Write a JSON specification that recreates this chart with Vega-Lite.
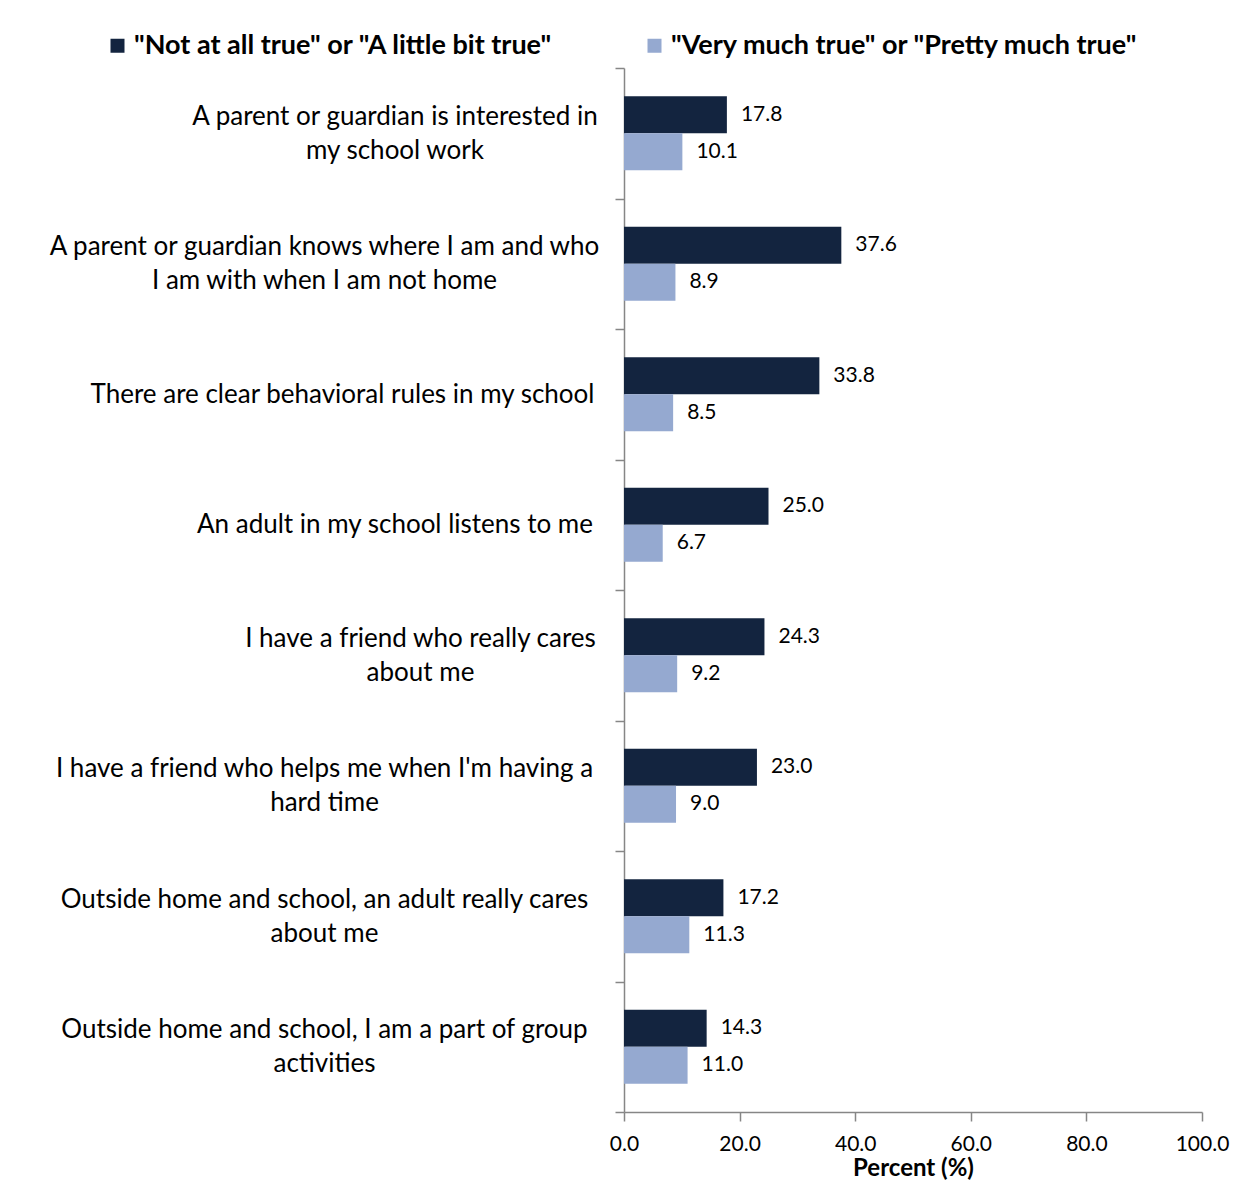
{
  "$schema": "https://vega.github.io/schema/vega-lite/v6.json",
  "width": 578,
  "height": 1044,
  "autosize": {"type": "none"},
  "padding": {"left": 624, "top": 68, "right": 31, "bottom": 68},
  "background": "white",
  "config": {
    "view": {"stroke": null},
    "font": "Lato",
    "axisY": {
      "title": null,
      "labelFontSize": 26,
      "labelColor": "#000000",
      "labelLineHeight": 34,
      "labelBaseline": "middle",
      "labelAlign": "center",
      "labelLimit": 700,
      "tickSize": 9,
      "tickBand": "extent",
      "domainColor": "#868686",
      "tickColor": "#868686",
      "domainWidth": 1.5,
      "tickWidth": 1.5
    }
  },
  "data": {"values": [
    {"item": "A parent or guardian is interested in|my school work", "series": "\"Not at all true\" or \"A little bit true\"", "value": 17.8},
    {"item": "A parent or guardian is interested in|my school work", "series": "\"Very much true\" or \"Pretty much true\"", "value": 10.1},
    {"item": "A parent or guardian knows where I am and who|I am with when I am not home", "series": "\"Not at all true\" or \"A little bit true\"", "value": 37.6},
    {"item": "A parent or guardian knows where I am and who|I am with when I am not home", "series": "\"Very much true\" or \"Pretty much true\"", "value": 8.9},
    {"item": "There are clear behavioral rules in my school", "series": "\"Not at all true\" or \"A little bit true\"", "value": 33.8},
    {"item": "There are clear behavioral rules in my school", "series": "\"Very much true\" or \"Pretty much true\"", "value": 8.5},
    {"item": "An adult in my school listens to me", "series": "\"Not at all true\" or \"A little bit true\"", "value": 25.0},
    {"item": "An adult in my school listens to me", "series": "\"Very much true\" or \"Pretty much true\"", "value": 6.7},
    {"item": "I have a friend who really cares|about me", "series": "\"Not at all true\" or \"A little bit true\"", "value": 24.3},
    {"item": "I have a friend who really cares|about me", "series": "\"Very much true\" or \"Pretty much true\"", "value": 9.2},
    {"item": "I have a friend who helps me when I'm having a|hard time", "series": "\"Not at all true\" or \"A little bit true\"", "value": 23.0},
    {"item": "I have a friend who helps me when I'm having a|hard time", "series": "\"Very much true\" or \"Pretty much true\"", "value": 9.0},
    {"item": "Outside home and school, an adult really cares|about me", "series": "\"Not at all true\" or \"A little bit true\"", "value": 17.2},
    {"item": "Outside home and school, an adult really cares|about me", "series": "\"Very much true\" or \"Pretty much true\"", "value": 11.3},
    {"item": "Outside home and school, I am a part of group|activities", "series": "\"Not at all true\" or \"A little bit true\"", "value": 14.3},
    {"item": "Outside home and school, I am a part of group|activities", "series": "\"Very much true\" or \"Pretty much true\"", "value": 11.0}
  ]},
  "encoding": {
    "yOffset": {
      "field": "series", "type": "nominal",
      "sort": ["\"Not at all true\" or \"A little bit true\"", "\"Very much true\" or \"Pretty much true\""],
      "scale": {"paddingInner": 0, "paddingOuter": 0.76}
    },
    "x": {
      "field": "value", "type": "quantitative",
      "scale": {"domain": [0, 100], "nice": false},
      "axis": {
        "values": [0, 20, 40, 60, 80, 100],
        "format": ".1f",
        "grid": false,
        "labelFontSize": 21,
        "labelColor": "#000000",
        "labelPadding": 12,
        "labelFlush": false,
        "tickSize": 9,
        "domainColor": "#868686",
        "tickColor": "#868686",
        "domainWidth": 1.5,
        "tickWidth": 1.5,
        "title": "Percent (%)",
        "titleFontSize": 24,
        "titleFontWeight": "bold",
        "titleColor": "#000000",
        "titlePadding": 2
      }
    }
  },
  "resolve": {"axis": {"y": "independent"}},
  "layer": [
    {
      "transform": [{"filter": "indexof(datum.series, 'Not at all') >= 0"}],
      "mark": {"type": "bar"},
      "encoding": {
        "y": {
          "field": "item", "type": "nominal", "sort": null,
          "scale": {"paddingInner": 0, "paddingOuter": 0},
          "axis": {
            "orient": "left",
            "labelExpr": "(indexof(datum.label, 'knows where') >= 0 || indexof(datum.label, 'helps me') >= 0 || indexof(datum.label, 'an adult really') >= 0 || indexof(datum.label, 'group') >= 0) ? split(datum.label, '|') : ''",
            "labelOffset": {"condition": {"test": "indexof(datum.label, '|') >= 0", "value": -17}, "value": 0},
            "labelPadding": 291
          }
        },
        "color": {
          "field": "series", "type": "nominal",
          "sort": ["\"Not at all true\" or \"A little bit true\"", "\"Very much true\" or \"Pretty much true\""],
          "scale": {
            "domain": ["\"Not at all true\" or \"A little bit true\"", "\"Very much true\" or \"Pretty much true\""],
            "range": ["#13243f", "#95a9d0"]
          },
          "legend": {
            "title": null,
            "orient": "none",
            "legendX": -520,
            "legendY": -36,
            "direction": "horizontal",
            "columnPadding": 88,
            "symbolType": "square",
            "symbolSize": 196,
            "symbolStrokeWidth": 0,
            "labelFontSize": 27,
            "labelFontWeight": "bold",
            "labelColor": "#000000",
            "labelOffset": 3,
            "labelLimit": 700
          }
        }
      }
    },
    {
      "transform": [{"filter": "indexof(datum.series, 'Very much') >= 0"}],
      "mark": {"type": "bar"},
      "encoding": {
        "y": {
          "field": "item", "type": "nominal", "sort": null,
          "scale": {"paddingInner": 0, "paddingOuter": 0},
          "axis": {
            "orient": "left",
            "ticks": false,
            "domain": false,
            "labelExpr": "indexof(datum.label, 'behavioral') >= 0 ? split(datum.label, '|') : ''",
            "labelOffset": {"condition": {"test": "indexof(datum.label, '|') >= 0", "value": -17}, "value": 0},
            "labelPadding": 282
          }
        },
        "color": {
          "field": "series", "type": "nominal",
          "sort": ["\"Not at all true\" or \"A little bit true\"", "\"Very much true\" or \"Pretty much true\""]
        }
      }
    },
    {
      "transform": [{"filter": "indexof(datum.series, 'Not at all') >= 0"}],
      "mark": {"type": "text", "align": "left", "baseline": "middle", "dx": 14, "fontSize": 21, "color": "#000000"},
      "encoding": {
        "y": {
          "field": "item", "type": "nominal", "sort": null,
          "scale": {"paddingInner": 0, "paddingOuter": 0},
          "axis": {
            "orient": "left",
            "ticks": false,
            "domain": false,
            "labelExpr": "(indexof(datum.label, 'interested') >= 0 || indexof(datum.label, 'listens') >= 0) ? split(datum.label, '|') : ''",
            "labelOffset": {"condition": {"test": "indexof(datum.label, '|') >= 0", "value": -17}, "value": 0},
            "labelPadding": 229.5
          }
        },
        "text": {"field": "value", "type": "quantitative", "format": ".1f"}
      }
    },
    {
      "transform": [{"filter": "indexof(datum.series, 'Very much') >= 0"}],
      "mark": {"type": "text", "align": "left", "baseline": "middle", "dx": 14, "fontSize": 21, "color": "#000000"},
      "encoding": {
        "y": {
          "field": "item", "type": "nominal", "sort": null,
          "scale": {"paddingInner": 0, "paddingOuter": 0},
          "axis": {
            "orient": "left",
            "ticks": false,
            "domain": false,
            "labelExpr": "indexof(datum.label, 'friend who really') >= 0 ? split(datum.label, '|') : ''",
            "labelOffset": {"condition": {"test": "indexof(datum.label, '|') >= 0", "value": -17}, "value": 0},
            "labelPadding": 204
          }
        },
        "text": {"field": "value", "type": "quantitative", "format": ".1f"}
      }
    }
  ]
}
